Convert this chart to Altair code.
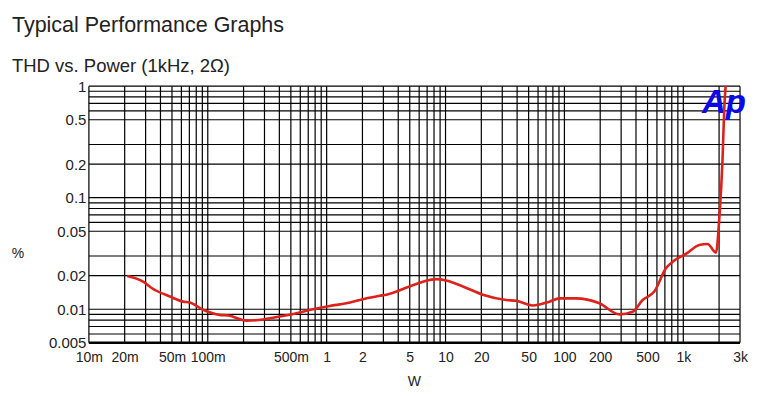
import altair as alt
import pandas as pd

# --- data ---
power_w = [0.021, 0.0286, 0.0337, 0.048, 0.062, 0.0706, 0.0914, 0.126, 0.149, 0.211,
           0.292, 0.403, 0.556, 0.767, 1.06, 1.46, 2.02, 2.79, 3.18, 4.98,
           7.34, 8.36, 10.1, 14.0, 20.6, 32.4, 39.3, 54.2, 74.8, 90.8,
           125, 197, 290, 375, 455, 570, 714, 840, 1052, 1362,
           1600, 1883, 2008, 2140, 2211, 2270]
thd_pct = [0.0199, 0.0177, 0.0155, 0.0130, 0.0117, 0.0115, 0.0099, 0.0089, 0.0088, 0.0079,
           0.0081, 0.0086, 0.0092, 0.0100, 0.0107, 0.0113, 0.0123, 0.0132, 0.0135, 0.0160,
           0.0183, 0.0186, 0.0181, 0.0160, 0.0135, 0.0121, 0.0119, 0.0108, 0.0117, 0.0125,
           0.0125, 0.0113, 0.0090, 0.0095, 0.0121, 0.0144, 0.0233, 0.0273, 0.0313, 0.0377,
           0.0385, 0.0322, 0.065, 0.225, 0.63, 1.0]

x_label_values = [0.01, 0.02, 0.05, 0.1, 0.5, 1, 2, 5, 10, 20, 50, 100, 200, 500, 1000, 3000]
y_label_values = [0.005, 0.01, 0.02, 0.05, 0.1, 0.2, 0.5, 1]
x_grid_values = [m * d for d in [0.01, 0.1, 1, 10, 100] for m in range(1, 10)] + [1000, 2000, 3000]
y_grid_values = [0.005, 0.006, 0.007, 0.008, 0.009, 0.01, 0.02, 0.03, 0.05, 0.06, 0.07, 0.08, 0.09,
                 0.1, 0.2, 0.3, 0.5, 0.6, 0.7, 0.8, 0.9, 1]

title_text = "Typical Performance Graphs"
subtitle_text = "THD vs. Power (1kHz, 2Ω)"
x_title = "W"
y_title = "%"
logo_text = "Ap"

W, H = 652, 257
FONT = "Liberation Sans"

xscale = alt.Scale(type="log", domain=[0.01, 3000], nice=False)
yscale = alt.Scale(type="log", domain=[0.005, 1], nice=False)

xaxis = alt.Axis(values=x_label_values, format="~s", grid=False, ticks=False,
                 domain=False, labelPadding=8, labelFont=FONT, labelFontSize=14,
                 labelColor="#222", title=None, labelFlush=False, labelOverlap=False)
yaxis = alt.Axis(values=y_label_values, format="~g", grid=False, ticks=False,
                 domain=False, labelPadding=3, labelFont=FONT, labelFontSize=15,
                 labelColor="#222", title=None, labelFlush=False, labelOverlap=False)

curve = pd.DataFrame({"power": power_w, "thd": thd_pct})

xgrid = alt.Chart(pd.DataFrame({"power": x_grid_values})).mark_rule(
    color="black", strokeWidth=1.2
).encode(x=alt.X("power:Q", scale=xscale, axis=xaxis))

ygrid = alt.Chart(pd.DataFrame({"thd": y_grid_values})).mark_rule(
    color="black", strokeWidth=1.2
).encode(y=alt.Y("thd:Q", scale=yscale, axis=yaxis))

bottom = alt.Chart(pd.DataFrame({"a": [0]})).mark_rule(color="black", strokeWidth=2.6).encode(
    x=alt.value(0), x2=alt.value(W), y=alt.value(H)
)

logo = alt.Chart(pd.DataFrame({"t": [logo_text]})).mark_text(
    font=FONT, fontSize=33, fontWeight="bold", fontStyle="italic", color="#0a0ae6",
    align="left", baseline="alphabetic"
).encode(text="t:N", x=alt.value(614), y=alt.value(27))

line = alt.Chart(curve).mark_line(color="#dc221a", strokeWidth=2.6, interpolate="monotone").encode(
    x=alt.X("power:Q", scale=xscale, axis=xaxis),
    y=alt.Y("thd:Q", scale=yscale, axis=yaxis),
)

def txt(s, x, y, size, align="left", baseline="alphabetic"):
    return alt.Chart(pd.DataFrame({"t": [s]})).mark_text(
        font=FONT, fontSize=size, color="#222", align=align, baseline=baseline
    ).encode(text="t:N", x=alt.value(x), y=alt.value(y))

title = txt(title_text, -77, -54, 21.5)
subtitle = txt(subtitle_text, -77, -14, 18.5)
ylab = txt(y_title, -71, 168, 14, align="center", baseline="middle")
xlab = txt(x_title, 326, 296, 14, align="center", baseline="middle")

chart = alt.layer(xgrid, ygrid, bottom, logo, line, title, subtitle, ylab, xlab).properties(
    width=W, height=H,
    autosize=alt.AutoSizeParams(type="none"),
    padding={"left": 81, "top": 78, "right": 14, "bottom": 50},
).configure_view(stroke=None)

chart.save("out.html", embed_options={"renderer": "svg", "actions": False})
